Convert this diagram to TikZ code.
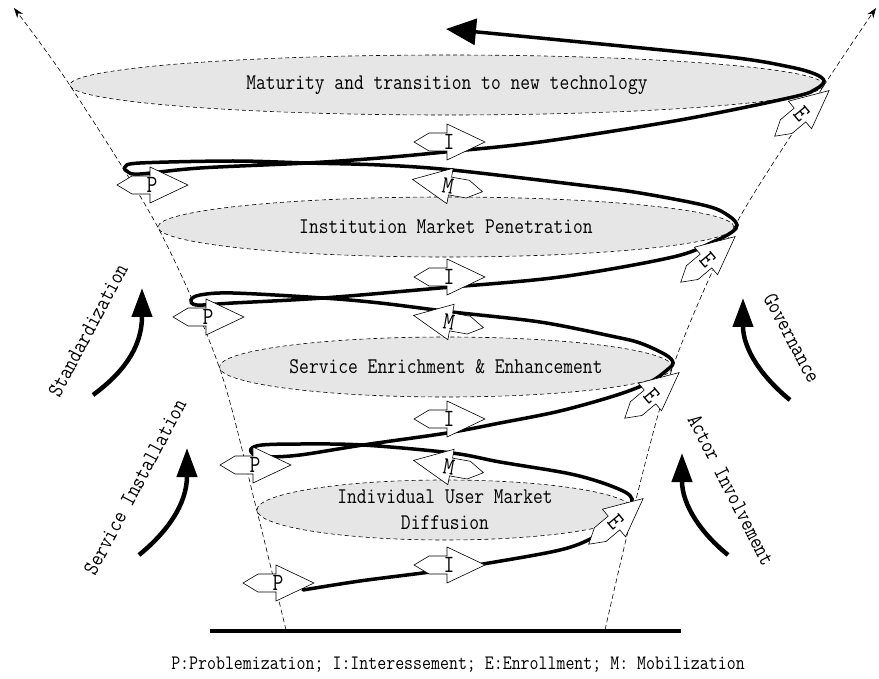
\documentclass[tikz,border=0pt]{standalone}
\usepackage{graphicx}
\usepackage{tikz}
\usetikzlibrary{
  shapes.geometric,
  arrows.meta
}
\definecolor{stagegray}{RGB}{230,230,230}
\newcommand{\stagefont}{\fontsize{19}{26}\selectfont\ttfamily}
\newcommand{\markfont}{\fontsize{21}{21}\selectfont\ttfamily}
\newcommand{\notefont}{\fontsize{17.4}{20}\selectfont\ttfamily}
\newcommand{\tallt}[1]{\scalebox{1}[1.18]{#1}}
\tikzset{
  stage/.style={ellipse, draw, line width=0.6pt, dash pattern=on 4pt off 3pt,
    fill=stagegray, inner sep=0pt, font=\stagefont},
  funnel/.style={line width=0.6pt, dash pattern=on 5pt off 3pt,
    -{Stealth[length=10pt,width=7pt]}},
  spiral/.style={line width=3.5pt, line cap=round},
  trend/.style={line width=4.5pt, -{Triangle[length=29pt,width=20pt]}},
  side/.style={font=\stagefont},
  pics/move/.style 2 args={code={
    \draw[fill=white, line width=0.6pt] (-33,0) -- (-18,9) -- (0,9) -- (0,18)
      -- (38,0) -- (0,-18) -- (0,-9) -- (-18,-9) -- cycle;
    \node[rotate=#2, font=\markfont, inner sep=0pt] (-tag) at (2,0) {\tallt{#1}};
  }}
}

\begin{document}
\begin{tikzpicture}[x=1pt, y=-1pt]
  \useasboundingbox (0,0) rectangle (879,679);

  % stages
  \node[stage, minimum width=754pt, minimum height=60pt] (mature) at (447,85)
    {\tallt{Maturity and transition to new technology}};
  \node[stage, minimum width=576pt, minimum height=60pt] (inst) at (446,227)
    {\tallt{Institution Market Penetration}};
  \node[stage, minimum width=453pt, minimum height=60pt] (serv) at (446,367)
    {\tallt{Service Enrichment \& Enhancement}};
  \node[stage, minimum width=376pt, minimum height=60pt, align=center] (indiv) at (445,510)
    {\tallt{Individual User Market}\\\tallt{Diffusion}};

  % funnel borders
  \draw[funnel] plot[smooth] coordinates {(286,630) (indiv.west) (serv.west) (inst.west) (mature.west) (14,8)};
  \draw[funnel] plot[smooth] coordinates {(605,630) (indiv.east) (serv.east) (inst.east) (mature.east) (876,8)};

  % base
  \coordinate (baseL) at (210,631);
  \coordinate (baseR) at (681,631);
  \draw[line width=4pt] (baseL) -- (baseR);

  % spiral
  \draw[spiral, -{Triangle[length=30pt,width=26pt]}] plot[smooth, tension=0.55] coordinates {
    (303,590) (360,581) (430,572) (483,564) (560,550) (594,537) (620,518) (630,506)
    (632,499) (625,492) (600,482) (566,473) (500,462) (452,453) (363,445) (300,444)
    (262,445) (251,449) (254,455) (266,457) (300,455) (363,445) (447,433) (500,423)
    (560,411) (617,395) (650,382) (667,370) (673,363) (666,355) (640,343) (611,336)
    (540,322) (452,312) (380,303) (323,298) (233,293) (200,295) (191,300) (197,305)
    (233,303) (323,298) (440,288) (560,277) (673,257) (715,241) (732,232) (737,225)
    (729,216) (707,206) (640,193) (580,185) (452,170) (380,165) (307,163) (233,161)
    (140,163) (125,167) (128,172) (140,174) (200,168) (307,163) (380,158) (445,152)
    (540,142) (680,120) (793,97) (816,89) (824,81) (815,74) (790,67) (729,57)
    (560,40) (446,29)};

  % translation moments
  \pic (p1) at (150,185) {move={P}{0}};
  \pic (p2) at (206,317) {move={P}{0}};
  \pic (p3) at (253,465) {move={P}{0}};
  \pic (p4) at (276,583) {move={P}{0}};
  \pic (i1) at (447,142) {move={I}{0}};
  \pic (i2) at (447,277) {move={I}{0}};
  \pic (i3) at (447,419) {move={I}{0}};
  \pic (i4) at (447,565) {move={I}{0}};
  \pic[rotate=170] (m1) at (450,186) {move={M}{-10}};
  \pic[rotate=170] (m2) at (451,322) {move={M}{-10}};
  \pic[rotate=170] (m3) at (451,467) {move={M}{-10}};
  \pic[rotate=40] (e1) at (800,115) {move={E}{-50}};
  \pic[rotate=40] (e2) at (706,261) {move={E}{-50}};
  \pic[rotate=40] (e3) at (650,397) {move={E}{-50}};
  \pic[rotate=40] (e4) at (614,523) {move={E}{-50}};

  % side trends
  \coordinate (stdA) at (93,395);  \coordinate (stdB) at (142,288);
  \coordinate (insA) at (139,555); \coordinate (insB) at (187,448);
  \coordinate (govA) at (790,400); \coordinate (govB) at (743,298);
  \coordinate (actA) at (728,555); \coordinate (actB) at (682,453);
  \draw[trend] (stdA) .. controls (120,375) and (142,350) .. (stdB);
  \draw[trend] (insA) .. controls (166,533) and (187,505) .. (insB);
  \draw[trend] (govA) .. controls (763,378) and (743,350) .. (govB);
  \draw[trend] (actA) .. controls (701,533) and (682,505) .. (actB);

  \node[side, rotate=62] (std) at (88,330) {\tallt{Standardization}};
  \node[side, rotate=62] (ins) at (135,487) {\tallt{Service Installation}};
  \node[side, rotate=-62] (gov) at (792,338) {\tallt{Governance}};
  \node[side, rotate=-63] (act) at (731,490) {\tallt{Actor Involvement}};

  % legend
  \node[font=\notefont] (legend) at (458,665)
    {\tallt{P:Problemization; I:Interessement; E:Enrollment; M: Mobilization}};
\end{tikzpicture}
\end{document}
